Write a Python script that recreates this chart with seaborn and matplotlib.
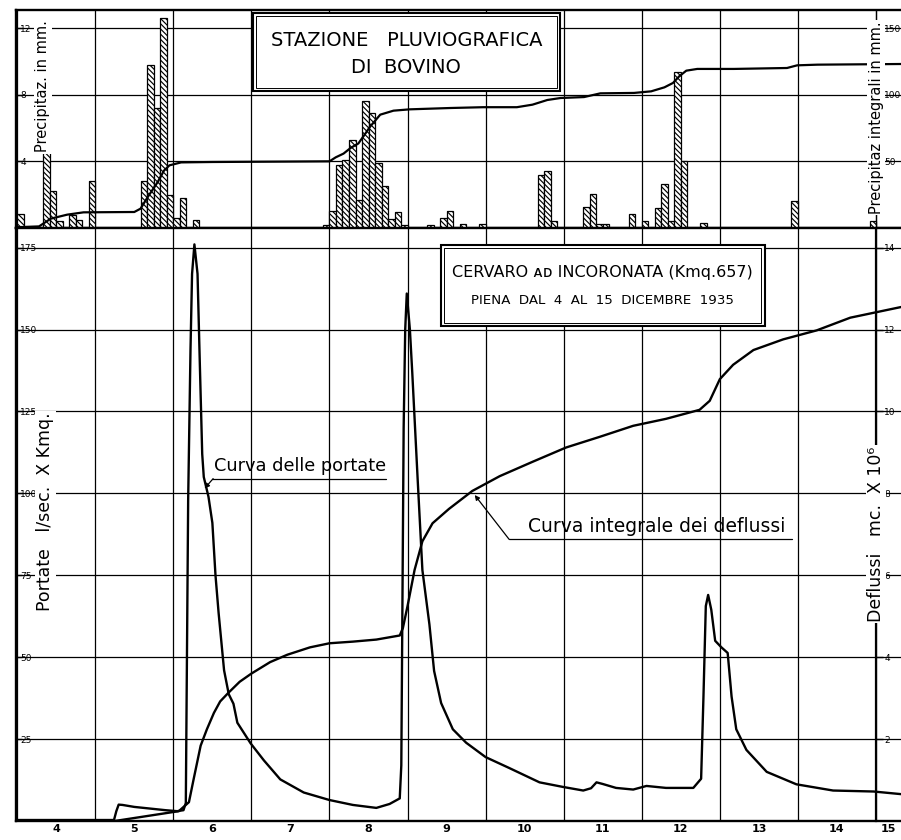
import numpy as np
import pandas as pd
import matplotlib
matplotlib.use("Agg")
import matplotlib.pyplot as plt
import seaborn as sns
from matplotlib.patches import Rectangle
from matplotlib.path import Path
from matplotlib.collections import LineCollection
import matplotlib.transforms as mtransforms

# ---------------- data ----------------
day_numbers = list(range(4, 16))
day_labels = [str(d) for d in day_numbers]

# rainfall at Bovino, 2-hour totals: start hour counted from 4 Dec 00:00, mm
rain_hour = [0, 8, 10, 12, 16, 18, 22,
             38, 40, 42, 44, 46, 48, 50, 54,
             94, 96, 98, 100, 102, 104, 106, 108, 110, 112, 114, 116, 118,
             126, 130, 132, 136, 142,
             160, 162, 164, 174, 176, 178, 180, 188,
             192, 196, 198, 200, 202, 204, 210, 238, 262]
rain_mm = [0.84, 4.8, 2.2, 0.4, 0.8, 0.46, 2.8,
           2.8, 9.8, 7.2, 12.6, 2.0, 0.6, 1.8, 0.46,
           0.2, 1.0, 3.8, 4.1, 5.3, 1.65, 7.6, 6.9, 3.9, 2.5, 0.55, 0.95, 0.15,
           0.2, 0.6, 1.0, 0.24, 0.24,
           3.2, 3.4, 0.44, 1.24, 2.04, 0.24, 0.22, 0.86,
           0.42, 1.22, 2.62, 0.44, 9.34, 4.0, 0.3, 1.64, 0.44]

# cumulative rainfall (day of December, mm)
rain_cum_day = [4.0, 4.28, 4.43, 4.64, 4.85, 5.5, 5.58, 5.67, 5.8, 5.88, 5.95, 6.1, 6.5,
                8.0, 8.08, 8.18, 8.27, 8.37, 8.45, 8.52, 8.65, 8.82, 9.03, 9.55, 9.97,
                10.4, 10.6, 10.79, 10.96, 11.26, 11.47, 11.9, 12.12, 12.29, 12.4, 12.48,
                12.57, 12.71, 13.18, 13.86, 13.99, 14.25, 15.32]
rain_cum_mm = [0.6, 1.2, 7, 10, 11.75, 12, 14.5, 23, 34.5, 43, 47, 49.2, 49.5,
               50, 53, 55.8, 60, 63.4, 70, 76, 85, 88, 89, 90, 90.6,
               90.6, 92.5, 96, 97.5, 98.2, 101, 101.3, 102.5, 105.5, 108.8, 113.8,
               118, 119.3, 119.3, 120, 122, 122.5, 123]

# discharge (l/sec x Kmq)
flow_day = [4.0, 5.24, 5.27, 5.3, 5.35, 5.5, 5.7, 5.9, 6.05, 6.13, 6.16, 6.19, 6.22,
            6.24, 6.27, 6.31, 6.34, 6.37, 6.39, 6.45, 6.5, 6.54, 6.58, 6.65, 6.71,
            6.77, 6.82, 6.99, 7.16, 7.37, 7.67, 8.0, 8.3, 8.6, 8.77, 8.9, 8.92,
            8.95, 8.97, 8.99, 9.03, 9.06, 9.13, 9.19, 9.28, 9.34, 9.43, 9.58, 9.75,
            10.0, 10.3, 10.69, 10.99, 11.25, 11.35, 11.42, 11.5, 11.67, 11.89,
            12.06, 12.31, 12.66, 12.76, 12.79, 12.82, 12.85, 12.89, 12.94, 13.02,
            13.1, 13.15, 13.21, 13.34, 13.6, 13.98, 14.45, 14.97, 15.32]
flow_val = [0.3, 0.3, 3.0, 5.0, 4.9, 4.3, 3.8, 3.3, 3.0, 3.3, 5.5, 98, 144,
            167, 176, 167, 139, 112, 105, 99, 91, 75, 63.5, 46, 38.7,
            35.8, 30, 23.7, 18.5, 12.7, 8.7, 6.4, 4.9, 4.0, 5.2, 6.9, 17,
            120, 150, 161, 150, 137, 104, 76.6, 60, 45.8, 36, 28, 23.9,
            19.5, 16.2, 11.8, 10.4, 9.3, 10.0, 11.8, 11.3, 10.1, 9.6,
            10.7, 10.1, 10.1, 12.9, 38, 65.6, 69, 64.5, 55, 53,
            51.3, 38, 28, 21.7, 15, 11.2, 9.3, 9.0, 8.2]

# cumulative runoff (mc x 10^6)
runoff_day = [5.25, 6.07, 6.2, 6.26, 6.35, 6.43, 6.52, 6.6, 6.7, 6.85, 7.0, 7.24,
              7.46, 7.75, 8.0, 8.3, 8.6, 8.9, 8.94, 9.0, 9.09, 9.19, 9.32, 9.53,
              9.83, 10.18, 10.6, 11.03, 11.46, 11.89, 12.31, 12.74, 12.87, 13.0,
              13.17, 13.43, 13.81, 14.24, 14.67, 15.32]
runoff_val = [0.0, 0.24, 0.46, 1.02, 1.84, 2.24, 2.64, 2.92, 3.12, 3.40, 3.60, 3.88,
              4.06, 4.24, 4.34, 4.38, 4.43, 4.53, 4.71, 5.25, 6.13, 6.83, 7.27, 7.62,
              8.06, 8.42, 8.77, 9.12, 9.38, 9.65, 9.82, 10.04, 10.26, 10.79,
              11.14, 11.50, 11.76, 11.98, 12.29, 12.55]

rain_ticks = [4, 8, 12]
rain_cum_ticks = [50, 100, 150]
flow_ticks = [25, 50, 75, 100, 125, 150, 175]
runoff_ticks = [2, 4, 6, 8, 10, 12, 14]

# ---------------- style ----------------
sns.set_theme(style="white")
plt.rcParams["font.family"] = ["DejaVu Sans"]
plt.rcParams.update({"text.color": "black", "axes.labelcolor": "black",
                     "xtick.color": "black", "ytick.color": "black"})

W, H = 901, 840
fig = plt.figure(figsize=(W / 100, H / 100), dpi=100)
fig.patch.set_facecolor("white")


def frac(x0, y0, x1, y1):
    return [x0 / W, 1 - y1 / H, (x1 - x0) / W, (y1 - y0) / H]


XL = (3.985, 15.32)
ax_top = fig.add_axes(frac(16, 10, 901, 228))
ax_low = fig.add_axes(frac(16, 228, 901, 821))
ax_top2 = ax_top.twinx()
ax_low2 = ax_low.twinx()

TOP_MAX = 13.08
LOW_MAX = 181

# ---------------- top panel: rain ----------------
rain_df = pd.DataFrame({"day": [4 + (h + 1) / 24 for h in rain_hour], "mm": rain_mm})
sns.histplot(data=rain_df, x="day", weights="mm", binwidth=1 / 12,
             binrange=(4, 4 + 136 / 12), ax=ax_top,
             color="white", edgecolor="black", linewidth=0.9,
             alpha=1, zorder=3)
bars = [p for p in ax_top.patches if p.get_height() > 0]
for p in ax_top.patches:
    p.set_facecolor("white")
    p.set_edgecolor("black")
    p.set_linewidth(0.9)
    p.set_alpha(1)

# diagonal hatching, clipped to the bars drawn by seaborn
verts, codes = [], []
for b in bars:
    x0, y0, w, h = b.get_x(), b.get_y(), b.get_width(), b.get_height()
    verts += [(x0, y0), (x0 + w, y0), (x0 + w, y0 + h), (x0, y0 + h), (x0, y0)]
    codes += [Path.MOVETO, Path.LINETO, Path.LINETO, Path.LINETO, Path.CLOSEPOLY]
bar_path = Path(verts, codes)
segs = [[(c, H + 20), (c + 300, H - 280)] for c in np.arange(-320, W + 20, 5.2)]
hatch = LineCollection(segs, colors="black", linewidths=0.85,
                       transform=mtransforms.IdentityTransform(), zorder=3.5)
ax_top.add_collection(hatch, autolim=False)
hatch.set_clip_path(bar_path, ax_top.transData)

cum_df = pd.DataFrame({"day": rain_cum_day, "mm": rain_cum_mm})
sns.lineplot(data=cum_df, x="day", y="mm", ax=ax_top2, color="black", lw=1.6,
             estimator=None, sort=False)

ax_top.set_xlim(*XL)
ax_top.set_ylim(0, TOP_MAX)
ax_top2.set_ylim(0, TOP_MAX * 12.5)
ax_top.set_xticks(day_numbers)
ax_top.set_xticklabels([])
ax_top.tick_params(axis="x", length=0)
ax_top.set_yticks(rain_ticks)
ax_top.tick_params(axis="y", direction="in", length=4, width=1, pad=-3,
                   labelsize=6.5, colors="black")
plt.setp(ax_top.get_yticklabels(), ha="left")
ax_top.grid(True, color="black", lw=0.9)
ax_top.set_xlabel("")
ax_top.set_ylabel("")

ax_top2.set_yticks(rain_cum_ticks)
ax_top2.spines["right"].set_position(("data", 15))
ax_top2.tick_params(axis="y", direction="out", length=5, width=1, pad=1,
                    labelsize=6.5, colors="black")
ax_top2.set_ylabel("")
ax_top2.set_xlabel("")

# ---------------- lower panel: flow ----------------
flow_df = pd.DataFrame({"day": flow_day, "q": flow_val})
sns.lineplot(data=flow_df, x="day", y="q", ax=ax_low, color="black", lw=1.7,
             estimator=None, sort=False, zorder=4)
run_df = pd.DataFrame({"day": runoff_day, "v": runoff_val})
sns.lineplot(data=run_df, x="day", y="v", ax=ax_low2, color="black", lw=1.7,
             estimator=None, sort=False)

ax_low.set_xlim(*XL)
ax_low.set_ylim(0, LOW_MAX)
ax_low2.set_ylim(0, LOW_MAX * 0.08)
ax_low.set_yticks(flow_ticks)
ax_low.tick_params(axis="y", direction="in", length=4, width=1, pad=-3,
                   labelsize=6.5, colors="black")
plt.setp(ax_low.get_yticklabels(), ha="left")
ax_low.set_xticks(day_numbers)
ax_low.set_xticklabels([])
ax_low.tick_params(axis="x", which="major", direction="out", length=14, width=1.1,
                   colors="black")
ax_low.set_xticks([d + 0.5 for d in day_numbers[:-1]] + [15.16], minor=True)
ax_low.set_xticklabels(day_labels, minor=True)
ax_low.tick_params(axis="x", which="minor", length=0, pad=2, labelsize=8)
plt.setp(ax_low.get_xticklabels(minor=True), fontweight="bold")
ax_low.grid(True, which="major", color="black", lw=0.9)
ax_low.set_xlabel("")
ax_low.set_ylabel("")

ax_low2.set_yticks(runoff_ticks)
ax_low2.spines["right"].set_position(("data", 15))
ax_low2.tick_params(axis="y", direction="out", length=5, width=1, pad=1,
                    labelsize=6.5, colors="black")
ax_low2.set_ylabel("")
ax_low2.set_xlabel("")

# spines
for a in (ax_top, ax_low):
    for s in ("left", "top", "bottom"):
        a.spines[s].set_visible(True)
        a.spines[s].set_color("black")
        a.spines[s].set_linewidth(1.7)
    a.spines["right"].set_visible(False)
for a in (ax_top2, ax_low2):
    for s in ("left", "top", "bottom"):
        a.spines[s].set_visible(False)
    a.spines["right"].set_color("black")
ax_top2.spines["right"].set_linewidth(0.9)
ax_low2.spines["right"].set_linewidth(1.6)

# ---------------- title boxes ----------------
def double_box(ax, x0, y0, x1, y1, dx, dy):
    ax.add_patch(Rectangle((x0, y0), x1 - x0, y1 - y0, facecolor="white",
                           edgecolor="black", lw=1.5, zorder=6))
    ax.add_patch(Rectangle((x0 + dx, y0 + dy), x1 - x0 - 2 * dx, y1 - y0 - 2 * dy,
                           facecolor="none", edgecolor="black", lw=0.7, zorder=6))

double_box(ax_top, 7.02, 8.22, 10.95, 12.9, 0.035, 0.17)
ax_top.text(8.985, 11.28, "STAZIONE   PLUVIOGRAFICA", ha="center", va="center",
            fontsize=14, zorder=7)
ax_top.text(8.985, 9.62, "DI  BOVINO", ha="center", va="center", fontsize=14, zorder=7)

double_box(ax_low, 9.423, 151.1, 13.575, 175.8, 0.042, 1.0)
ax_low.text(11.5, 167.3, "CERVARO \u1d00\u1d05 INCORONATA (Kmq.657)", ha="center",
            va="center", fontsize=11.5, zorder=7)
ax_low.text(11.5, 159.0, "PIENA  DAL  4  AL  15  DICEMBRE  1935", ha="center",
            va="center", fontsize=9.6, zorder=7)

# ---------------- axis titles ----------------
wb = dict(facecolor="white", edgecolor="none", pad=1)
ax_top.text(4.33, 8.5, "Precipitaz. in mm.", rotation=90, ha="center", va="center",
            fontsize=10.5, bbox=wb, zorder=7)
ax_top2.text(15.0, 83, "Precipitaz integrali in mm.", rotation=90, ha="center",
             va="center", fontsize=10.5, bbox=wb, zorder=7)
ax_low.text(4.36, 94.5, "Portate   l/sec.  X Kmq.", rotation=90, ha="center",
            va="center", fontsize=12.5, bbox=wb, zorder=7)
ax_low2.text(15.0, 7.0, "Deflussi   mc.  X 10\u2076", rotation=90, ha="center",
             va="center", fontsize=12.5, bbox=wb, zorder=7)

# ---------------- curve labels ----------------
ax_low.text(6.52, 105.5, "Curva delle portate", ha="left", va="bottom", fontsize=12.8,
            zorder=7)
ax_low.plot([6.50, 8.72], [104.5, 104.5], color="black", lw=0.9, zorder=7)
ax_low.annotate("", xy=(6.40, 101.5), xytext=(6.51, 104.5),
                arrowprops=dict(arrowstyle="-|>", color="black", lw=0.9,
                                mutation_scale=7, shrinkA=0, shrinkB=0), zorder=7)

ax_low.text(10.54, 87.0, "Curva integrale dei deflussi", ha="left", va="bottom",
            fontsize=13.5, zorder=7)
ax_low.plot([10.30, 13.93], [86.0, 86.0], color="black", lw=0.9, zorder=7)
ax_low.annotate("", xy=(9.86, 99.5), xytext=(10.30, 86.0),
                arrowprops=dict(arrowstyle="-|>", color="black", lw=0.9,
                                mutation_scale=7, shrinkA=0, shrinkB=0), zorder=7)

fig.savefig("out.png", dpi=100, facecolor="white")
